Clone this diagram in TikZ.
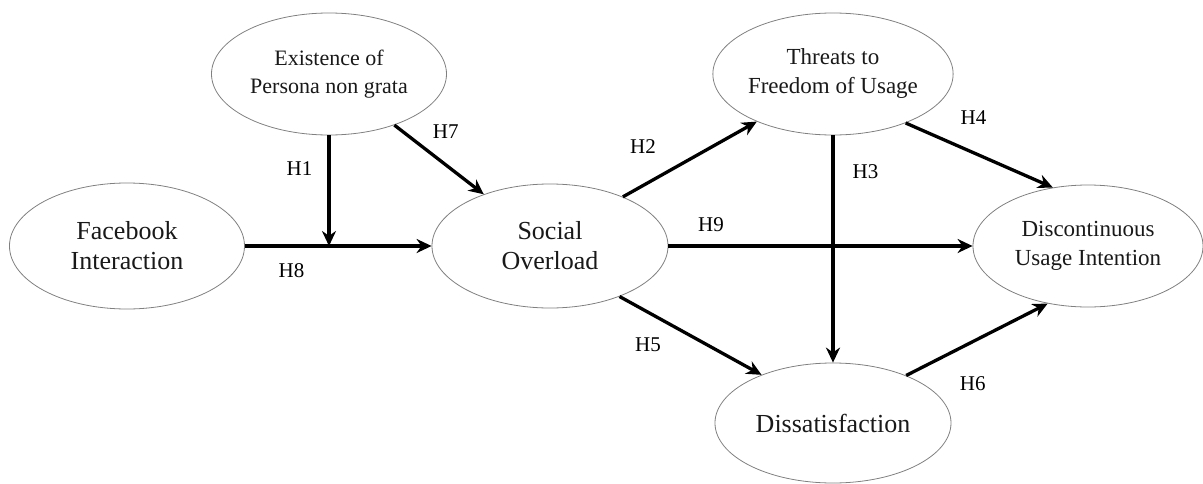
\documentclass[tikz,border=0pt]{standalone}
\usepackage{fontspec}
\setmainfont{Liberation Serif}
\newfontfamily\modelfont{Liberation Serif}
\usetikzlibrary{shapes.geometric, arrows.meta, positioning}

\begin{document}
\begin{tikzpicture}[node distance=100pt]
%
% Research model: constructs as ellipses, hypotheses H1..H9 as arrows
%
% Styles
\tikzstyle{construct} = [ellipse, draw=gray, line width=0.8pt, inner sep=0pt, align=center, text=black!90]
\tikzstyle{bigtext} = [font=\modelfont\fontsize{26}{30}\selectfont]
\tikzstyle{midtext} = [font=\modelfont\fontsize{23}{29}\selectfont]
\tikzstyle{arrow} = [line width=3.3pt, -{Stealth[length=15pt, width=14pt]}]
\tikzstyle{hyp} = [font=\modelfont\fontsize{21}{21}\selectfont, inner sep=0pt]
\useasboundingbox (-550pt,-237pt) rectangle (653pt,246pt);
% Nodes
\node (social) [construct, bigtext, minimum width=236pt, minimum height=124pt] {Social\\Overload};
\node (facebook) [construct, bigtext, minimum width=235pt, minimum height=126pt, left of=social, xshift=-323pt] {Facebook\\Interaction};
\node (persona) [construct, font=\modelfont\fontsize{22}{28}\selectfont, minimum width=235pt, minimum height=122pt, above of=social, yshift=72pt, xshift=-221pt] {Existence of\\Persona non grata};
\node (threats) [construct, midtext, minimum width=232pt, minimum height=122pt, right of=persona, xshift=404pt] {Threats to\\Freedom of Usage};
\node (disc) [construct, midtext, minimum width=230pt, minimum height=122pt, right of=social, xshift=438pt] {Discontinuous\\Usage Intention};
\node (dissat) [construct, bigtext, minimum width=236pt, minimum height=120pt, below of=threats, yshift=-249pt] {Dissatisfaction};
\coordinate (h1end) at (persona.south |- social.west);
% Arrows
\draw [arrow] (facebook) -- node[hyp, pos=0.25, below=16pt] (lh8) {H8} (social);
\draw [arrow] (persona.south) -- node[hyp, pos=0.3, left=15pt] (lh1) {H1} (h1end);
\draw [arrow] (persona.-38) -- node[hyp, pos=0.1, right=28pt] (lh7) {H7} (social.142);
\draw [arrow] (social.34) -- node[hyp, pos=0.15, above=30pt] (lh2) {H2} (threats.212);
\draw [arrow] (social) -- node[hyp, pos=0.14, above=13pt] (lh9) {H9} (disc);
\draw [arrow] (threats) -- node[hyp, pos=0.16, right=18pt] (lh3) {H3} (dissat);
\draw [arrow] (threats.-34) -- node[hyp, pos=0.2, above right=10pt and 24pt] (lh4) {H4} (disc.121);
\draw [arrow] (social.-36) -- node[hyp, pos=0.2, below=24pt] (lh5) {H5} (dissat.146);
\draw [arrow] (dissat.33) -- node[hyp, pos=0.1, below right=7pt and 38pt] (lh6) {H6} (disc.235);
\end{tikzpicture}
\end{document}
